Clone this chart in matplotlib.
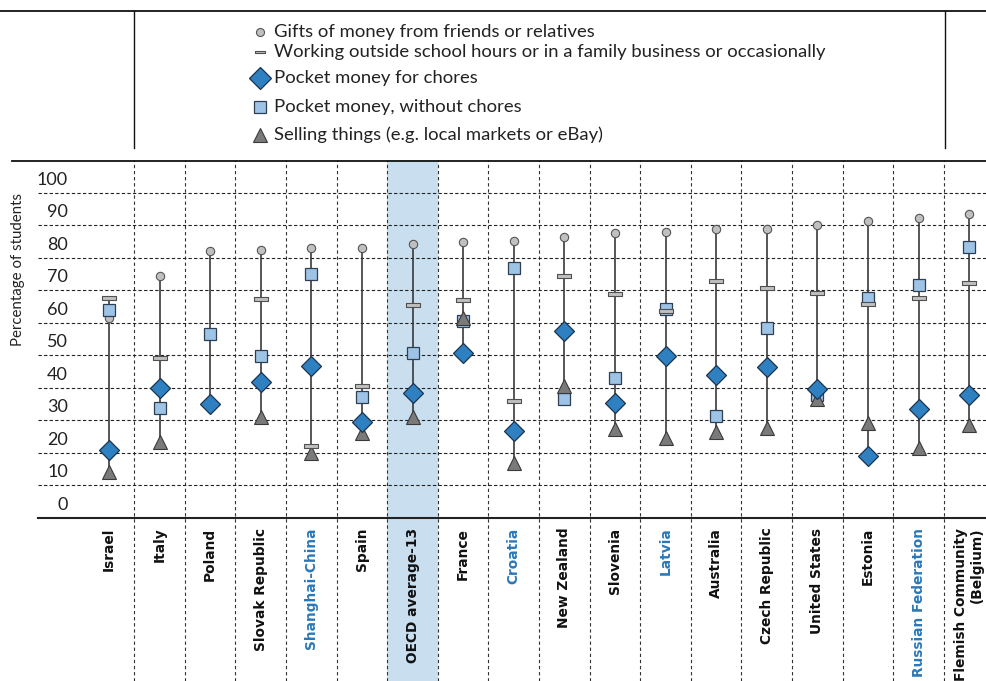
import numpy as np
import matplotlib
matplotlib.use("Agg")
import matplotlib.pyplot as plt
from matplotlib.path import Path
from matplotlib.transforms import blended_transform_factory

nan = np.nan
categories = ["Israel", "Italy", "Poland", "Slovak Republic", "Shanghai-China", "Spain",
              "OECD average-13", "France", "Croatia", "New Zealand", "Slovenia", "Latvia",
              "Australia", "Czech Republic", "United States", "Estonia", "Russian Federation",
              "Flemish Community\n(Belgium)"]
partners = ["Shanghai-China", "Croatia", "Latvia", "Russian Federation"]
average_label = "OECD average-13"

gifts = [61.3, 74.4, 82.0, 82.3, 82.9, 83.1, 84.2, 84.9, 85.1, 86.2, 87.7, 87.8, 88.7, 88.7, 90.0, 91.2, 92.3, 93.3]
working = [67.5, 49.1, nan, 67.2, 22.2, 40.7, 65.3, 66.9, 36.0, 74.4, 68.8, 63.7, 72.7, 70.7, 69.0, 65.7, 67.6, 72.1]
chores = [20.9, 39.8, 34.9, 41.9, 46.8, 29.6, 38.3, 50.6, 26.7, 57.5, 35.2, 49.9, 43.9, 46.5, 39.6, 19.0, 33.4, 37.8]
no_chores = [63.9, 33.7, 56.4, 49.9, 74.9, 37.1, 50.8, 60.5, 76.9, 36.5, 43.1, 64.2, 31.4, 58.5, 37.8, 67.5, 71.7, 83.4]
selling = [14.0, 23.5, nan, 31.1, 20.1, 26.2, 31.1, 61.3, 16.8, 40.6, 27.2, 24.5, 26.5, 27.7, 36.5, 29.1, 21.4, 28.6]

ytick_values = list(range(0, 101, 10))
series_names = ["Gifts of money from friends or relatives",
                "Working outside school hours or in a family business or occasionally",
                "Pocket money for chores",
                "Pocket money, without chores",
                "Selling things (e.g. local markets or eBay)"]

W, H = 987, 681
fig = plt.figure(figsize=(W / 100, H / 100), dpi=100)

ax_left, ax_right, ax_bottom, ax_top = 38, 987, 518, 160
ax = fig.add_axes([ax_left / W, (H - ax_bottom) / H, (ax_right - ax_left) / W, (ax_bottom - ax_top) / H])
ax.set_ylim(0, 110)
ax.set_xlim(-1.403, 17.352)

x = np.arange(len(categories))
band_color = "#c9dfef"
ext = -(H - ax_bottom) / (ax_bottom - ax_top)
oi = categories.index(average_label)
ax.axvspan(oi - 0.5, oi + 0.5, ymin=ext, ymax=1, color=band_color, zorder=0.3, clip_on=False, lw=0)

# gridlines
ax.set_yticks(range(10, 101, 10))
ax.yaxis.grid(True, linestyle=(0, (3, 2)), color="#222222", linewidth=0.8)
ax.tick_params(axis="y", length=0, labelleft=False)
for i in range(len(categories) - 1):
    ax.axvline(i + 0.5, ymin=ext, ymax=1, color="#333333", linestyle=(0, (3, 2.5)),
               linewidth=0.8, clip_on=False, zorder=0.6)

for s in ["left", "right", "top"]:
    ax.spines[s].set_visible(False)
ax.spines["bottom"].set_linewidth(1.5)
ax.spines["bottom"].set_color("#222222")

# ranges
arr = np.array([gifts, working, chores, no_chores, selling], dtype=float)
lo = np.nanmin(arr, axis=0)
hi = np.nanmax(arr, axis=0)
ax.vlines(x, lo, hi, color="#3a3a3a", linewidth=1.2, zorder=2)

bar_marker = Path([(-1, -0.3), (1, -0.3), (1, 0.3), (-1, 0.3), (-1, -0.3)],
                  [Path.MOVETO, Path.LINETO, Path.LINETO, Path.LINETO, Path.CLOSEPOLY])

styles = {
    "gifts": dict(marker="o", ms=6.0, mfc="#c0c0c0", mec="#555555", mew=0.8, zorder=3),
    "no_chores": dict(marker="s", ms=9.2, mfc="#9dc3e6", mec="#2f3f52", mew=0.9, zorder=4),
    "selling": dict(marker="^", ms=9.5, mfc="#7a7a7a", mec="#3a3a3a", mew=0.8, zorder=5),
    "working": dict(marker=bar_marker, ms=9.4, mfc="#c0c0c0", mec="#505050", mew=0.8, zorder=6),
    "chores": dict(marker="D", ms=10.0, mfc="#2f80c0", mec="#1a3350", mew=0.9, zorder=7),
}
data = {"gifts": gifts, "working": working, "chores": chores, "no_chores": no_chores, "selling": selling}
for key in ["gifts", "no_chores", "selling", "working", "chores"]:
    st = styles[key]
    ax.plot(x, data[key], linestyle="none", marker=st["marker"], markersize=st["ms"],
            markerfacecolor=st["mfc"], markeredgecolor=st["mec"], markeredgewidth=st["mew"],
            zorder=st["zorder"], clip_on=False)

# y tick labels (placed between gridlines like the original)
tr = blended_transform_factory(ax.transAxes, ax.transData)
for v in ytick_values:
    ax.text((68 - ax_left) / (ax_right - ax_left), v + 4.0, str(v), transform=tr,
            ha="right", va="center", fontsize=13, family="Lato", color="#222222")

# x labels
ax.set_xticks(x)
ax.set_xticklabels(categories, rotation=90, fontsize=9.9, fontweight="bold", family="DejaVu Sans")
ax.tick_params(axis="x", length=0, pad=7)
for lab, name in zip(ax.get_xticklabels(), categories):
    lab.set_verticalalignment("top")
    lab.set_multialignment("right")
    lab.set_color("#2b78b8" if name in partners else "#111111")

fig.text(18 / W, 1 - 270 / H, "Percentage of students", rotation=90, ha="center", va="center",
         fontsize=10.8, family="Lato", color="#222222")

# overlay for frame lines and legend
ov = fig.add_axes([0, 0, 1, 1], zorder=10)
ov.set_xlim(0, W)
ov.set_ylim(H, 0)
ov.axis("off")
ov.plot([0, W], [10.5, 10.5], color="#111111", lw=1.3)
ov.plot([12, W], [160.5, 160.5], color="#111111", lw=1.3)
ov.plot([134, 134], [10.5, 148], color="#111111", lw=1.0)
ov.plot([945, 945], [10.5, 148], color="#111111", lw=1.0)

leg_y = [31.7, 51.7, 78, 106.7, 135]
leg_keys = ["gifts", "working", "chores", "no_chores", "selling"]
leg_ms = {"gifts": 5.8, "working": 6.5, "chores": 11.0, "no_chores": 8.8, "selling": 9.5}
for yy, key, name in zip(leg_y, leg_keys, series_names):
    st = styles[key]
    ov.plot([260], [yy], linestyle="none", marker=st["marker"], markersize=leg_ms[key],
            markerfacecolor=st["mfc"], markeredgecolor=st["mec"], markeredgewidth=st["mew"])
    ov.text(274, yy, name, ha="left", va="center", fontsize=13.3, family="Lato", color="#222222")

fig.savefig("out.png", dpi=100)
